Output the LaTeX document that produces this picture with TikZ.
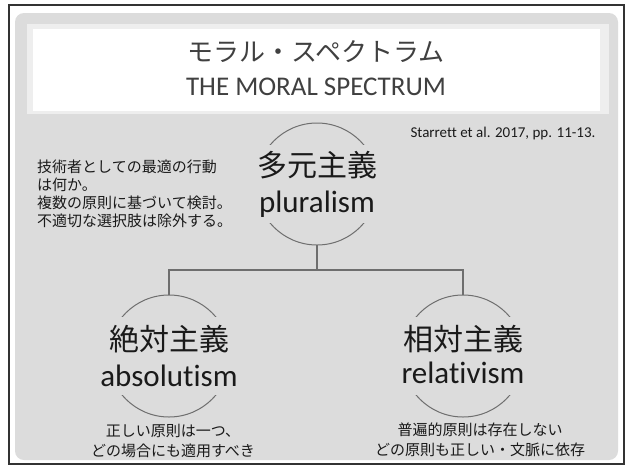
\documentclass[tikz,border=0pt]{standalone}
\usepackage{fontspec}
\setmainfont{Carlito}[Ligatures=NoCommon]
\newfontfamily\jp{Noto Sans CJK JP}
\usetikzlibrary{calc}
\definecolor{framec}{HTML}{333333}
\definecolor{panelc}{HTML}{DCDCDC}
\definecolor{bandc}{HTML}{EEEEEE}
\definecolor{ringc}{HTML}{6E6E6E}
\definecolor{inkc}{HTML}{1A1A1A}
\definecolor{titleinkc}{HTML}{404040}
\begin{document}
\begin{tikzpicture}[x=1pt,y=-1pt,
  ring/.style={circle, minimum size=122pt, inner sep=0pt, outer sep=0pt},
  arcline/.style={draw=ringc, line width=1pt},
  conn/.style={draw=ringc, line width=1.5pt},
  cjkbig/.style={font=\jp\fontsize{30}{36}\selectfont, text=inkc, inner sep=0pt},
  engbig/.style={font=\fontsize{31}{36}\selectfont, text=inkc, inner sep=0pt},
  smalltxt/.style={font=\jp\fontsize{15}{20}\selectfont, text=inkc, inner sep=0pt, align=center},
]
\useasboundingbox (0,0) rectangle (627,467);
\fill[white] (0,0) rectangle (627,467);
\draw[framec, line width=2pt] (9,5) rectangle (624,464);
\fill[panelc, rounded corners=9pt] (15,13) rectangle (618,460);
\fill[bandc] (27,24) rectangle (609,114);
\fill[white] (33,29) rectangle (600,111);
\node[font=\jp\fontsize{26}{30}\selectfont, text=titleinkc, inner sep=0pt] (ttl) at (316,52) {モラル・スペクトラム};
\node[font=\fontsize{27}{30}\selectfont, text=titleinkc, inner sep=0pt] (ttlen) at (316,87) {THE MORAL SPECTRUM};

\node[ring] (plu) at (317,184) {};
\node[ring] (abs) at (169,356) {};
\node[ring] (rel) at (463,356) {};
\foreach \n in {plu,abs,rel} {
  \begin{scope}
    \clip ($(\n)+(-70,-70)$) rectangle ($(\n)+(70,-40)$);
    \draw[arcline] (\n) circle[radius=61pt];
  \end{scope}
  \begin{scope}
    \clip ($(\n)+(-70,39)$) rectangle ($(\n)+(70,70)$);
    \draw[arcline] (\n) circle[radius=61pt];
  \end{scope}
}

\coordinate (hub) at (317,270);
\draw[conn] (plu.south) -- (hub);
\draw[conn] (abs.north) |- (hub) -| (rel.north);

\node[cjkbig] (pluj) at (317,165) {多元主義};
\node[engbig] (plue) at (317,204) {pluralism};
\node[cjkbig] (absj) at (169,339) {絶対主義};
\node[engbig] (abse) at (169,376) {absolutism};
\node[cjkbig] (relj) at (463,339) {相対主義};
\node[engbig] (rele) at (463,373) {relativism};

\node[smalltxt] (absn) at (173,441) {正しい原則は一つ、\\どの場合にも適用すべき};
\node[smalltxt] (reln) at (480,440) {普遍的原則は存在しない\\どの原則も正しい・文脈に依存};

\node[font=\jp\fontsize{15}{18}\selectfont, text=inkc, inner sep=0pt, align=left, anchor=north west] (note) at (37,160) {技術者としての最適の行動\\は何か。\\複数の原則に基づいて検討。\\不適切な選択肢は除外する。};
\node[font=\fontsize{15}{18}\selectfont, text=inkc, inner sep=0pt] (ref) at (503,133) {Starrett et al. 2017, pp. 11-13.};
\end{tikzpicture}
\end{document}
